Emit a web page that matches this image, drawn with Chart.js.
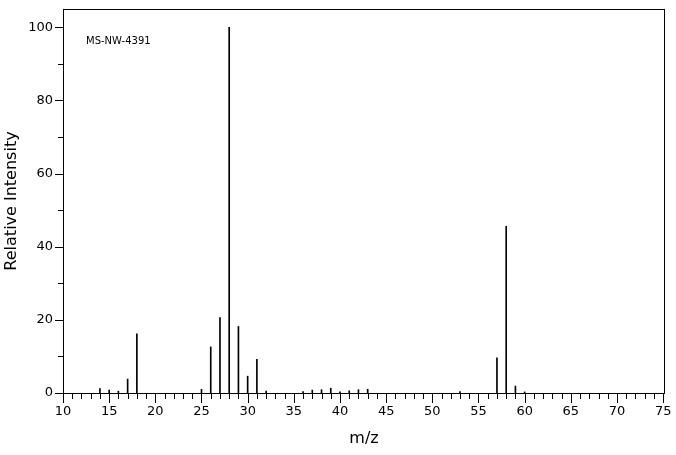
<!DOCTYPE html><html><head><script src="https://cdn.jsdelivr.net/npm/chart.js@4"></script>
<style>html,body{margin:0;background:#fff}#w{width:676px;height:455px}</style></head><body><div id="w"><canvas id="c"></canvas></div>
<script>
const mz =        [14,15,16,17,18,25,26,27,28,29,30,31,32,36,37,38,39,40,41,42,43,53,57,58,59,60];
const intensity = [1.2,0.8,0.5,3.8,16.2,1.0,12.6,20.6,100,18.2,4.6,9.2,0.5,0.4,0.8,0.9,1.3,0.3,0.6,0.9,1.0,0.4,9.6,45.6,1.9,0.3];
const xTicks = [10,15,20,25,30,35,40,45,50,55,60,65,70,75];
const yTicks = [0,20,40,60,80,100];
const F = 'DejaVu Sans';
const frame = {id:'frame',afterDraw(ch){
  const c=ch.ctx,a=ch.chartArea,x=ch.scales.x,y=ch.scales.y;
  c.save();c.strokeStyle='#000';c.lineWidth=1;
  c.strokeRect(a.left+0.5,a.top+0.5,a.right-a.left-1,a.bottom-a.top);
  c.beginPath();
  for(let v=10;v<=75;v++){const p=Math.round(x.getPixelForValue(v))+0.5;const L=v%5===0?10:6;c.moveTo(p,a.bottom);c.lineTo(p,a.bottom+L);}
  for(let v=0;v<=100;v+=10){const p=Math.round(y.getPixelForValue(v))+0.5;const L=v%20===0?8:5;c.moveTo(a.left,p);c.lineTo(a.left-L,p);}
  c.stroke();
  c.fillStyle='#000';c.font='13px '+F;c.textAlign='center';c.textBaseline='top';
  xTicks.forEach(v=>c.fillText(v,x.getPixelForValue(v),a.bottom+12));
  c.textAlign='right';c.textBaseline='middle';
  yTicks.forEach(v=>c.fillText(v,a.left-10,y.getPixelForValue(v)));
  c.font='10px '+F;c.textAlign='left';c.fillText('MS-NW-4391',86,41);
  c.font='16px '+F;c.textAlign='center';c.textBaseline='middle';c.fillText('m/z',(a.left+a.right)/2,439);
  c.translate(12,(a.top+a.bottom)/2);c.rotate(-Math.PI/2);c.fillText('Relative Intensity',0,0);
  c.restore();}};
new Chart(document.getElementById('c'),{type:'bar',
 data:{datasets:[{data:mz.map((m,i)=>({x:m,y:intensity[i]})),backgroundColor:'#000',barThickness:1}]},
 options:{responsive:true,maintainAspectRatio:false,animation:false,
  layout:{padding:{top:9,right:11,left:0,bottom:0}},
  plugins:{legend:{display:false},tooltip:{enabled:false}},
  scales:{
   x:{type:'linear',min:10,max:75.2,offset:false,grid:{display:false},border:{display:false},ticks:{display:false},afterFit(s){s.height=62;}},
   y:{min:0,max:105,grid:{display:false},border:{display:false},ticks:{display:false},afterFit(s){s.width=63;}}}},
 plugins:[frame]});
</script></body></html>
